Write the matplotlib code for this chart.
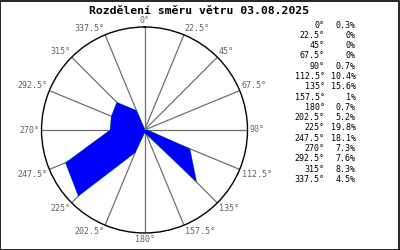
import numpy as np
import matplotlib
matplotlib.use("Agg")
import matplotlib.pyplot as plt
from matplotlib.patches import Rectangle

title = "Rozdělení směru větru 03.08.2025"
directions = [0, 22.5, 45, 67.5, 90, 112.5, 135, 157.5, 180, 202.5, 225, 247.5, 270, 292.5, 315, 337.5]
dir_labels = ["0°", "22.5°", "45°", "67.5°", "90°", "112.5°", "135°", "157.5°", "180°",
              "202.5°", "225°", "247.5°", "270°", "292.5°", "315°", "337.5°"]
values = [0.3, 0, 0, 0, 0.7, 10.4, 15.6, 1, 0.7, 5.2, 19.8, 18.1, 7.3, 7.6, 8.3, 4.5]
value_labels = ["0.3%", "0%", "0%", "0%", "0.7%", "10.4%", "15.6%", "1%", "0.7%",
                "5.2%", "19.8%", "18.1%", "7.3%", "7.6%", "8.3%", "4.5%"]

plt.rcParams['font.family'] = ['DejaVu Sans Mono']

fig = plt.figure(figsize=(4, 2.5), dpi=100)
fig.patches.append(Rectangle((0.0012, 0.002), 0.9975, 0.996, transform=fig.transFigure,
                             fill=False, edgecolor='black', linewidth=1.2))

ax = fig.add_axes([0.1038, 0.068, 0.515, 0.824], projection='polar')
ax.set_theta_zero_location('N')
ax.set_theta_direction(-1)
rmax = max(values) * 1.1
ax.set_ylim(0, rmax)
ax.grid(False)
ax.set_xticks([])
ax.set_yticks([])
ax.spines['polar'].set_color('black')
ax.spines['polar'].set_linewidth(1.0)
ax.patch.set_alpha(0)

theta = np.deg2rad(directions)
for t in theta:
    ax.plot([t, t], [0, rmax], color='#707070', linewidth=0.9, zorder=1)

tc = np.append(theta, theta[0])
vc = np.append(values, values[0])
ax.plot(tc, vc, color='#00cc00', linewidth=0.35, zorder=2)
ax.fill(tc, vc, color='#0000ff', zorder=3, linewidth=0)

for d, t, lab in zip(directions, theta, dir_labels):
    s, c = np.sin(t), np.cos(t)
    if abs(s) < 1e-6:
        ha = 'center'
    elif s > 0:
        ha = 'left'
    else:
        ha = 'right'
    if abs(c) < 1e-6:
        va = 'center'
    elif c > 0:
        va = 'bottom'
    else:
        va = 'top'
    ax.text(t, rmax * 1.02, lab, ha=ha, va=va, fontsize=6, color='#606060', zorder=4)

fig.text(0.497, 0.958, title, ha='center', va='center', fontsize=8.25, fontweight='bold')

y0 = 1 - 25 / 250
dy = 10.3 / 250
for i, (lab, vl) in enumerate(zip(dir_labels, value_labels)):
    y = y0 - i * dy
    fig.text(0.812, y, lab, ha='right', va='center', fontsize=6, color='black')
    fig.text(0.889, y, vl, ha='right', va='center', fontsize=6, color='black')

fig.savefig("out.png", dpi=100)
